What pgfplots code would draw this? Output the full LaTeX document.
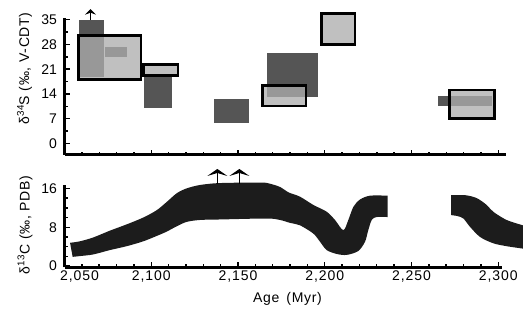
\documentclass[border=0pt]{standalone}
\usepackage{pgfplots}
\pgfplotsset{compat=1.18}
\usepgfplotslibrary{fillbetween}
\usetikzlibrary{arrows.meta}
\usepackage{fontspec}
\setmainfont{Liberation Sans}
\definecolor{darkbox}{gray}{0.333}
\definecolor{lightbox}{gray}{0.678}
\definecolor{bandcol}{gray}{0.11}
\pgfplotsset{
  myaxis/.style={
    scale only axis, anchor=south west, clip=false,
    axis lines*=left,
    axis line style={line width=3bp, black},
    tick style={black, line width=1.4bp},
    major tick length=5bp, minor tick length=3bp,
    tick align=inside,
    tick label style={font=\fontsize{14bp}{16bp}\selectfont},
    xticklabel style={font=\fontsize{14bp}{16bp}\selectfont\addfontfeature{LetterSpace=7}},
    label style={font=\fontsize{14bp}{16bp}\selectfont\addfontfeature{LetterSpace=5}},
    yticklabel style={xshift=-4bp},
    /pgf/number format/1000 sep={,},
    /pgf/number format/assume math mode=true,
  },
  dbox/.style={fill=darkbox, draw=none},
  lbox/.style={fill=lightbox, fill opacity=0.77, draw=black, draw opacity=1, line width=2.6bp, line join=miter},
}
\begin{document}
\begin{tikzpicture}
% ---------------- top panel: delta 34 S ----------------
\begin{axis}[myaxis, at={(64.5bp,159bp)}, width=441.6bp, height=137bp,
  xmin=2050, xmax=2304.5, ymin=-3.3, ymax=35.5,
  xtick={2050,2100,...,2300}, xticklabels={}, minor xtick={2060,2070,...,2290},
  ytick={0,7,...,35}, minor y tick num=1,
  ylabel={δ\textsuperscript{34}S (‰, V-CDT)},
  ylabel style={at={(axis description cs:-0.0906,0.631)}, anchor=center}]
% dark boxes
\addplot[dbox] coordinates {(2058.4,18.7) (2072.6,18.7) (2072.6,35.0) (2058.4,35.0)} -- cycle;
\addplot[dbox] coordinates {(2073.3,24.4) (2085.8,24.4) (2085.8,27.2) (2073.3,27.2)} -- cycle;
\addplot[dbox] coordinates {(2095.8,10.1) (2111.8,10.1) (2111.8,19.2) (2095.8,19.2)} -- cycle;
\addplot[dbox] coordinates {(2136.2,5.7) (2156.3,5.7) (2156.3,12.6) (2136.2,12.6)} -- cycle;
\addplot[dbox] coordinates {(2166.5,13.1) (2196.3,13.1) (2196.3,25.5) (2166.5,25.5)} -- cycle;
\addplot[dbox] coordinates {(2265.5,10.6) (2296.4,10.6) (2296.4,13.4) (2265.5,13.4)} -- cycle;
% light boxes
\addplot[lbox] coordinates {(2058.2,18.0) (2094.1,18.0) (2094.1,30.5) (2058.2,30.5)} -- cycle;
\addplot[lbox] coordinates {(2095.4,19.2) (2115.5,19.2) (2115.5,22.4) (2095.4,22.4)} -- cycle;
\addplot[lbox] coordinates {(2164.2,10.6) (2189.1,10.6) (2189.1,16.3) (2164.2,16.3)} -- cycle;
\addplot[lbox] coordinates {(2198.2,28.0) (2217.5,28.0) (2217.5,36.8) (2198.2,36.8)} -- cycle;
\addplot[lbox] coordinates {(2272.0,7.1) (2297.8,7.1) (2297.8,15.1) (2272.0,15.1)} -- cycle;
% arrow
\addplot[black, line width=1.3bp, -{Stealth[length=5.5bp,width=11bp,inset=2bp]}] coordinates {(2065,35.0) (2065,38.0)};
\end{axis}
% ---------------- bottom panel: delta 13 C ----------------
\begin{axis}[myaxis, at={(64.5bp,46.7bp)}, width=437.2bp, height=82.3bp,
  xmin=2050, xmax=2302, ymin=-0.25, ymax=16.7,
  xtick={2100,2150,...,2300}, minor xtick={2060,2070,...,2290},
  extra x ticks={2050}, extra x tick style={xticklabel style={xshift=15bp}},
  ytick={0,8,16}, minor y tick num=3,
  ylabel={δ\textsuperscript{13}C (‰, PDB)},
  ylabel style={at={(axis description cs:-0.0903,0.514)}, anchor=center},
  xlabel={Age\hspace{0.5em}(Myr)},
  xlabel style={at={(axis description cs:0.51,-0.385)}, anchor=center}]
\addplot[draw=none, name path=u1, smooth, tension=0.5] coordinates {
 (2053.2,4.8) (2058.9,5.1) (2066.6,5.9) (2076.2,7.3) (2085.9,8.6) (2095.4,10.0)
 (2103.1,11.5) (2108.9,13.2) (2114.7,15.0) (2120.4,16.0) (2128.1,16.7) (2139.6,17.1)
 (2163,17.2) (2168,17.0) (2174.2,16.3) (2179,15.2) (2185.7,14.3) (2193.4,12.6)
 (2201.1,11.2) (2205.9,9.5) (2210.7,7.4) (2213.6,9.5) (2216.5,12.2) (2220.3,13.7)
 (2226.1,14.5) (2236.3,14.5)};
\addplot[draw=none, name path=l1, smooth, tension=0.5] coordinates {
 (2054.7,1.9) (2058.9,2.06) (2066.6,2.4) (2076.2,3.3) (2085.9,4.1) (2095.4,5.1)
 (2103.1,6.2) (2108.9,7.1) (2114.7,8.2) (2120.4,9.1) (2128.1,9.5) (2139.6,9.6)
 (2166.5,9.8) (2174.2,9.5) (2180,8.9) (2185.7,8.4) (2193.4,6.7) (2197.3,5.0)
 (2201.1,3.3) (2206.9,2.5) (2212.6,2.3) (2219.3,3.1) (2223.2,5.0) (2225.1,7.4)
 (2227.1,9.5) (2229.9,10.1) (2236.3,10.1)};
\addplot[bandcol, draw=none] fill between[of=u1 and l1];
\addplot[draw=none, name path=u2, smooth, tension=0.5] coordinates {
 (2272.8,14.6) (2281,14.6) (2287.6,14.0) (2293.3,12.6) (2297.1,11.2) (2304.8,9.5) (2314.2,8.4)};
\addplot[draw=none, name path=l2, smooth, tension=0.5] coordinates {
 (2272.8,10.5) (2276.5,10.3) (2279.9,9.8) (2283.7,8.1) (2289.5,6.0) (2297.1,4.7) (2304.8,4.1) (2314.2,3.6)};
\addplot[bandcol, draw=none] fill between[of=u2 and l2];
% arrows
\addplot[black, line width=1.3bp, -{Stealth[length=7bp,width=20bp,inset=3bp]}] coordinates {(2138.1,17.0) (2138.1,20.0)};
\addplot[black, line width=1.3bp, -{Stealth[length=7bp,width=20bp,inset=3bp]}] coordinates {(2150.8,17.0) (2150.8,20.0)};
\end{axis}
\pgfresetboundingbox
\path[use as bounding box] (0,0) rectangle (523bp,314bp);
\end{tikzpicture}
\end{document}
